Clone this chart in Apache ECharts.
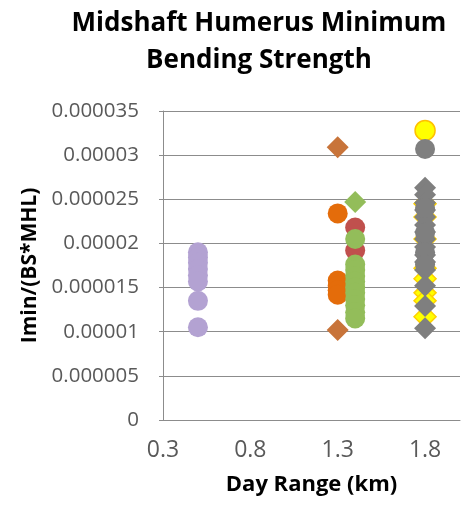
<!DOCTYPE html>
<html>
<head>
<meta charset="utf-8">
<script src="https://cdn.jsdelivr.net/npm/echarts@6/dist/echarts.min.js"></script>
<style>
  html, body { margin: 0; padding: 0; background: #fff; }
  #chart { width: 465px; height: 508px; }
</style>
</head>
<body>
<div id="chart"></div>
<script>
// Day range (km) and Imin/(BS*MHL) per group
const purpleX = 0.5;
const purpleCircles = [1.90e-5, 1.84e-5, 1.78e-5, 1.71e-5, 1.64e-5, 1.57e-5, 1.35e-5, 1.05e-5];

const orangeX = 1.3;
const orangeDiamonds = [3.09e-5, 1.02e-5];
const orangeCircles = [2.34e-5, 1.58e-5, 1.52e-5, 1.47e-5, 1.42e-5];

const greenRedX = 1.4;
const greenDiamonds = [2.47e-5];
const redCircles = [2.18e-5, 1.92e-5];
const greenCircles = [2.05e-5, 1.76e-5, 1.70e-5, 1.63e-5, 1.57e-5, 1.50e-5, 1.44e-5, 1.37e-5, 1.30e-5, 1.22e-5, 1.15e-5];

const grayX = 1.8;
const yellowCircles = [3.28e-5];
const yellowDiamonds = [2.45e-5, 2.30e-5, 2.05e-5, 1.72e-5, 1.60e-5, 1.44e-5, 1.35e-5, 1.17e-5];
const grayDiamonds = [2.63e-5, 2.55e-5, 2.46e-5, 2.38e-5, 2.30e-5, 2.21e-5, 2.13e-5, 2.05e-5, 1.96e-5, 1.87e-5, 1.79e-5, 1.70e-5, 1.52e-5, 1.29e-5, 1.04e-5];
const grayCircles = [3.07e-5, 2.40e-5, 2.12e-5, 1.90e-5, 1.76e-5];

const xTicks = { min: 0.3, max: 2.0, step: 0.5 };
const yTicks = { min: 0, max: 0.000035, step: 0.000005 };

const FONT = 'Open Sans';

function pts(x, ys) { return ys.map(y => [x, y]); }

function scatter(name, x, ys, symbol, color, border) {
  return {
    name: name,
    type: 'scatter',
    symbol: symbol,
    symbolSize: symbol === 'diamond' ? 22 : 20,
    data: pts(x, ys),
    itemStyle: { color: color, borderColor: border || color, borderWidth: border ? 1.5 : 0, opacity: 1 },
    emphasis: { disabled: true },
    animation: false
  };
}

const chart = echarts.init(document.getElementById('chart'));
chart.setOption({
  backgroundColor: '#ffffff',
  animation: false,
  title: {
    text: 'Midshaft Humerus Minimum\nBending Strength',
    left: 254,
    top: 0,
    textAlign: 'center',
    textStyle: { fontFamily: FONT, fontWeight: 'bold', fontSize: 26, lineHeight: 37, color: '#000' }
  },
  grid: { left: 163, right: 5, top: 111, bottom: 88, containLabel: false },
  xAxis: {
    type: 'value',
    min: xTicks.min,
    max: xTicks.max,
    interval: xTicks.step,
    name: 'Day Range (km)',
    nameLocation: 'middle',
    nameGap: 54,
    nameTextStyle: { fontFamily: FONT, fontWeight: 'bold', fontSize: 22, color: '#000' },
    axisLine: { show: true, lineStyle: { color: '#8c8c8c', width: 1 } },
    axisTick: { show: false },
    splitLine: { show: false },
    axisLabel: {
      showMaxLabel: false,
      margin: 19,
      fontFamily: FONT, fontSize: 23, color: '#595959',
      formatter: v => String(Number(v.toFixed(1)))
    }
  },
  yAxis: {
    type: 'value',
    min: yTicks.min,
    max: yTicks.max,
    interval: yTicks.step,
    name: 'Imin/(BS*MHL)',
    nameLocation: 'middle',
    nameGap: 119,
    nameRotate: 90,
    nameTextStyle: { fontFamily: FONT, fontWeight: 'bold', fontSize: 21, color: '#000' },
    axisLine: { show: true, lineStyle: { color: '#8c8c8c', width: 1 } },
    axisTick: { show: true, inside: false, length: 4, lineStyle: { color: '#8c8c8c' } },
    splitLine: { show: true, lineStyle: { color: '#8c8c8c', width: 1 } },
    axisLabel: {
      margin: 24,
      fontFamily: FONT, fontSize: 20.5, color: '#595959',
      formatter: v => String(Number(v.toFixed(6)))
    }
  },
  series: [
    scatter('purple', purpleX, purpleCircles, 'circle', '#b3a2d2'),
    scatter('orange diamonds', orangeX, orangeDiamonds, 'diamond', '#c8743a'),
    scatter('orange circles', orangeX, orangeCircles, 'circle', '#e46c0a'),
    scatter('green diamonds', greenRedX, greenDiamonds, 'diamond', '#93bd5a'),
    scatter('red circles', greenRedX, redCircles, 'circle', '#c0504d'),
    scatter('green circles', greenRedX, greenCircles, 'circle', '#93bd5a'),
    scatter('yellow circles', grayX, yellowCircles, 'circle', '#ffff00', '#ffc000'),
    scatter('yellow diamonds', grayX, yellowDiamonds, 'diamond', '#ffff00', '#ffd000'),
    scatter('gray diamonds', grayX, grayDiamonds, 'diamond', '#7f7f7f'),
    scatter('gray circles', grayX, grayCircles, 'circle', '#7f7f7f')
  ]
});
</script>
</body>
</html>
